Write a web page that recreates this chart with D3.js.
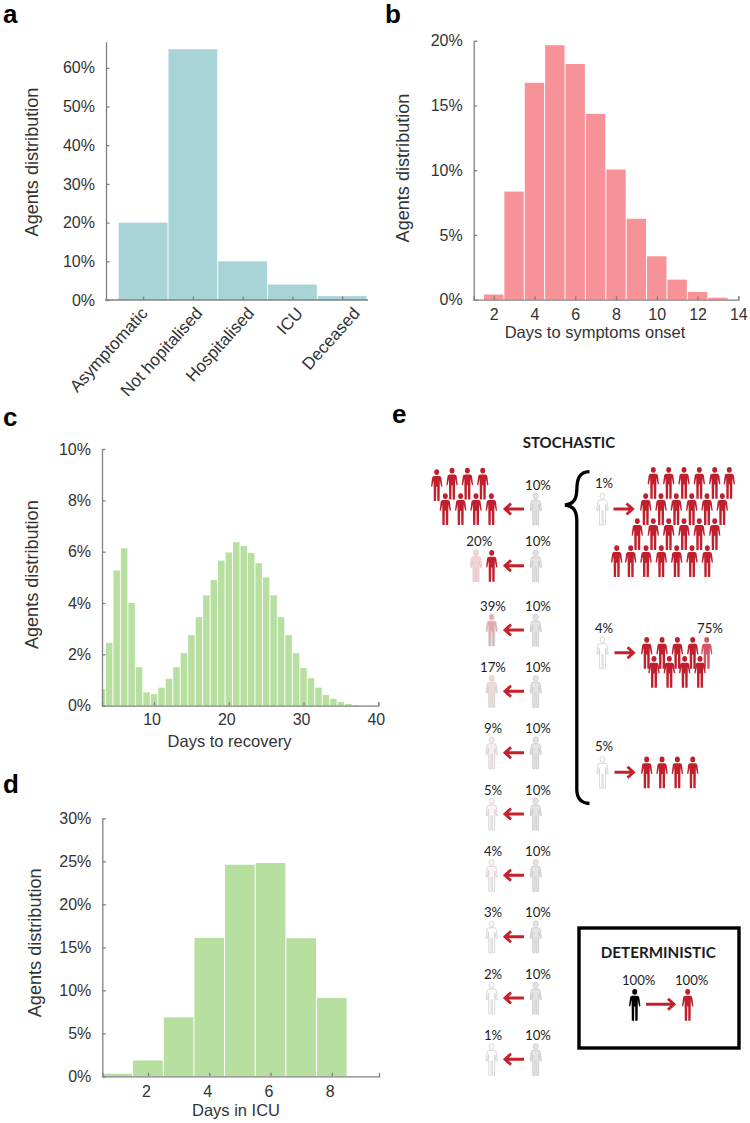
<!DOCTYPE html>
<html><head><meta charset="utf-8">
<script src="https://cdn.jsdelivr.net/npm/d3@7"></script>
<style>html,body{margin:0;padding:0;background:#fff}svg{display:block}
text{font-family:"Liberation Sans",Arial,sans-serif;fill:#333}
.e text{font-family:Lato,"Open Sans",sans-serif;fill:#1c1c1c}
</style></head><body><svg id="c" width="750" height="1123"></svg>
<script>
// ---- data ----
const severityCategories=["Asymptomatic","Not hopitalised","Hospitalised","ICU","Deceased"];
const severityValues=[20,64.8,10,4,1];
const severityTicks=[0,10,20,30,40,50,60];
const onsetDays=[2,3,4,5,6,7,8,9,10,11,12,13];
const onsetValues=[0.4,8.35,16.75,19.65,18.2,14.35,10.05,6.25,3.35,1.55,0.6,0.15];
const onsetXTicks=[2,4,6,8,10,12,14];
const onsetYTicks=[0,5,10,15,20];
const recoveryDays=[3,4,5,6,7,8,9,10,11,12,13,14,15,16,17,18,19,20,21,22,23,24,25,26,27,28,29,30,31,32,33,34,35,36,37];
const recoveryValues=[0.65,2.45,5.27,6.13,4.0,1.5,0.52,0.45,0.7,1.05,1.5,2.05,2.75,3.45,4.3,4.9,5.65,5.97,6.37,6.22,5.95,5.55,5.0,4.3,3.45,2.75,2.05,1.47,1.07,0.7,0.42,0.27,0.15,0.07,0.03];
const recoveryXTicks=[10,20,30,40];
const recoveryYTicks=[0,2,4,6,8,10];
const icuDays=[1,2,3,4,5,6,7,8];
const icuValues=[0.3,1.85,6.85,16.1,24.6,24.8,16.05,9.1];
const icuXTicks=[2,4,6,8];
const icuYTicks=[0,5,10,15,20,25,30];
const sourcePercent=10;
const stochasticTargets=[null,20,39,17,9,5,4,3,2,1];
const superPercents=[1,4,5];
const superRowCounts=[[6,6,6,7],[5,4],[4]];
const partialPercent=75;
const detPercents=[100,100];

// ---- shared ----
const svg=d3.select("#c");
const RED="#c01f2d";
const fmt=d=>d+"%";
function styleAxis(g){g.selectAll("path.domain,line").attr("stroke","#808080").attr("stroke-width",1.3);
  g.selectAll("text").attr("font-size",16).attr("fill","#333");}
function letter(t,x,y){svg.append("text").text(t).attr("x",x).attr("y",y).attr("font-size",26).attr("font-weight","bold").style("fill","#000");}
function ylabel(x,y){svg.append("text").text("Agents distribution").attr("transform",`translate(${x},${y}) rotate(-90)`).attr("text-anchor","middle").attr("font-size",18.1);}
function xlabel(t,x,y){svg.append("text").text(t).attr("x",x).attr("y",y).attr("text-anchor","middle").attr("font-size",16.5);}
function hist(cfg){
  const x=d3.scaleLinear().domain(cfg.xd).range(cfg.xr).clamp(true);
  const y=d3.scaleLinear().domain(cfg.yd).range(cfg.yr);
  const g=svg.append("g");
  g.selectAll("rect").data(cfg.days).join("rect")
    .attr("x",d=>x(d-.5)+.5).attr("width",d=>Math.max(0,x(d+.5)-x(d-.5)-1))
    .attr("y",(d,i)=>y(cfg.vals[i])).attr("height",(d,i)=>y(0)-y(cfg.vals[i])).attr("fill",cfg.fill);
  const ax=svg.append("g").attr("transform",`translate(0,${cfg.yr[0]})`)
    .call(d3.axisBottom(x).tickValues(cfg.xt).tickSizeInner(-3.5).tickSizeOuter(-3.5).tickPadding(cfg.xpad));
  styleAxis(ax); ax.selectAll("text").attr("dx",cfg.xdx||0);
  const ay=svg.append("g").attr("transform",`translate(${cfg.xr[0]},0)`)
    .call(d3.axisLeft(y).tickValues(cfg.yt).tickFormat(fmt).tickSizeInner(-3.5).tickSizeOuter(0).tickPadding(cfg.ypad));
  styleAxis(ay);
}

// ---- a ----
(function(){
  const x=d3.scaleBand().domain(severityCategories).range([118.7,367.6]);
  const y=d3.scaleLinear().domain([0,66.75]).range([300,41.7]);
  svg.append("g").selectAll("rect").data(severityCategories).join("rect")
    .attr("x",d=>x(d)).attr("width",x.bandwidth()-1)
    .attr("y",(d,i)=>y(severityValues[i])).attr("height",(d,i)=>y(0)-y(severityValues[i])).attr("fill","#a8d4d7");
  const ax=svg.append("g").attr("transform","translate(0,300)")
    .call(d3.axisBottom(x).tickSizeInner(-3.5).tickSizeOuter(0).tickPadding(9));
  styleAxis(ax);
  ax.select("path.domain").remove();
  ax.append("line").attr("x1",105).attr("x2",368).attr("stroke","#808080").attr("stroke-width",1.3);
  const labelShift=[5,10,12,11,18];
  ax.selectAll(".tick text").attr("text-anchor","end").attr("dy",null).attr("y",0)
    .attr("transform",(d,i)=>`translate(${labelShift[i]},14) rotate(-48)`).attr("font-size",17);
  const ay=svg.append("g").attr("transform","translate(106,0)")
    .call(d3.axisLeft(y).tickValues(severityTicks).tickFormat(fmt).tickSizeInner(-3.5).tickSizeOuter(0).tickPadding(11));
  styleAxis(ay);
  ylabel(38,162); letter("a",3,23);
})();

// ---- b ----
hist({days:onsetDays,vals:onsetValues,fill:"#f79298",xd:[1.02,14],xr:[473.7,738.3],yd:[0,20],yr:[299.7,40.7],
  xt:onsetXTicks,yt:onsetYTicks,xpad:8.5,ypad:11});
ylabel(409,168); xlabel("Days to symptoms onset",595,338); letter("b",385,23);

// ---- c ----
hist({days:recoveryDays,vals:recoveryValues,fill:"#b7dfa0",xd:[3.04,40],xr:[102,378.3],yd:[0,10],yr:[705.7,449],
  xt:recoveryXTicks,yt:recoveryYTicks,xpad:8,ypad:11,xdx:-2.5});
ylabel(38,574.7); xlabel("Days to recovery",229.5,747); letter("c",3,426);

// ---- d ----
hist({days:icuDays,vals:icuValues,fill:"#b7dfa0",xd:[0.51,9.54],xr:[102.3,379],yd:[0,30],yr:[1076.3,818.3],
  xt:icuXTicks,yt:icuYTicks,xpad:9,ypad:11,xdx:-2});
ylabel(41,942.8); xlabel("Days in ICU",236,1116); letter("d",3,793);

// ---- e ----
letter("e",392,423);
const e=svg.append("g").attr("class","e");
const PERSON="M-2.6,-9 L2.6,-9 Q4.3,-9 4.6,-7.2 L5.7,1.4 L4.5,1.8 L3.1,-4.6 L2.9,16 L0.6,16 L0.5,1.8 L-0.5,1.8 L-0.6,16 L-2.9,16 L-3.1,-4.6 L-4.5,1.8 L-5.7,1.4 L-4.6,-7.2 Q-4.3,-9 -2.6,-9 Z M-2.5,-12.9 a2.5,2.9 0 1,0 5,0 a2.5,2.9 0 1,0 -5,0 Z";
function person(x,y,fill,stroke){
  e.append("path").attr("d",PERSON).attr("transform",`translate(${x},${y})`)
   .attr("fill",fill).attr("stroke",stroke||"none").attr("stroke-width",stroke?0.8:0);
}
const pctFill=d3.interpolateRgb("#ffffff",RED);
function lab(t,x,y,size,bold){
  e.append("text").text(t).attr("x",x).attr("y",y).attr("dy",".35em").attr("text-anchor","middle")
   .attr("font-size",size||13.2).attr("font-weight",bold?"bold":"normal");
}
function arrow(x0,x1,y){
  const s=Math.sign(x1-x0);
  e.append("path").attr("d",`M${x0},${y}L${x1-s*1.5},${y}M${x1-s*7},${y-5.5}L${x1-s*1},${y}L${x1-s*7},${y+5.5}`)
   .attr("fill","none").attr("stroke","#c5202c").attr("stroke-width",2.9);
}
lab("STOCHASTIC",569,443,15,true);
// left column
const rowY=[509,565.7,630,691.3,752.7,814,875.3,936.7,998,1059.3];
stochasticTargets.forEach((p,i)=>{
  const y=rowY[i];
  lab(fmt(sourcePercent),538,y-24);
  person(535.7,y,"#e3e3e3","#c8c8c8");
  arrow(524,504,y);
  if(p===null)return;
  if(i===1){
    lab(fmt(p),479.3,y-24);
    person(476,y,pctFill(p/100),"#e2c4c6");
    person(491.7,y,RED);
  }else{
    lab(fmt(p),493,y-24);
    person(491.7,y,pctFill(p/100),"#cfcfcf");
  }
});
// row 0 crowd
const stepX=d3.scaleLinear().domain([0,1]).range([0,15.35]);
d3.range(4).forEach(i=>person(436.7+stepX(i),i===0?485:483.5,RED));
d3.range(4).forEach(i=>person(445.3+stepX(i),509,RED));
// brace
e.append("path").attr("d","M589.5,471.7 C579,472 577,479 576.8,490 C576.5,500 573,504 565,505 C573,506 576.5,510 576.8,520 L576.8,790 C577,798 581,803 589.5,803.5")
 .attr("fill","none").attr("stroke","#000").attr("stroke-width",3.3);
// right column
const superY=[509,652.7,772.3], superLabelY=[483,628,746.7];
superPercents.forEach((p,i)=>{
  lab(fmt(p),604,superLabelY[i]);
  person(602.5,superY[i],"#fff","#cfcfcf");
  arrow(i===0?613.5:614.5,i===0?633.5:634.5,superY[i]);
});
const crowdRows=[
 {x:[653.3,668.7,684,699.3,714.7,729.3],y:482.7},
 {x:[645.7,661,676.3,691.7,707,722.3],y:509},
 {x:[637.3,653.3,668.7,684,699.3,714.7],y:534},
 {x:[616.7,630.7,646,661.3,676.7,692,707.3],y:561}
];
crowdRows.forEach((r,k)=>d3.range(superRowCounts[0][k]).forEach(i=>person(r.x[i],r.y,RED)));
d3.range(superRowCounts[1][0]).forEach(i=>person(i<4?646.7+stepX(i):706.7,652.7,i<4?RED:pctFill(partialPercent/100)));
d3.range(superRowCounts[1][1]).forEach(i=>person(654+stepX(i),671.7,RED));
d3.range(superRowCounts[2][0]).forEach(i=>person(646.7+stepX(i),772.3,RED));
lab(fmt(partialPercent),710,628.7);
// deterministic box
e.append("rect").attr("x",579).attr("y",928).attr("width",160).attr("height",120).attr("fill","none").attr("stroke","#000").attr("stroke-width",3.4);
lab("DETERMINISTIC",658.3,952.7,15.2,true);
lab(fmt(detPercents[0]),638.7,980.7);
lab(fmt(detPercents[1]),691.7,980.7);
person(634.7,1004.7,"#000");
person(687.7,1004.7,RED);
arrow(646,675,1004.3);
</script></body></html>
